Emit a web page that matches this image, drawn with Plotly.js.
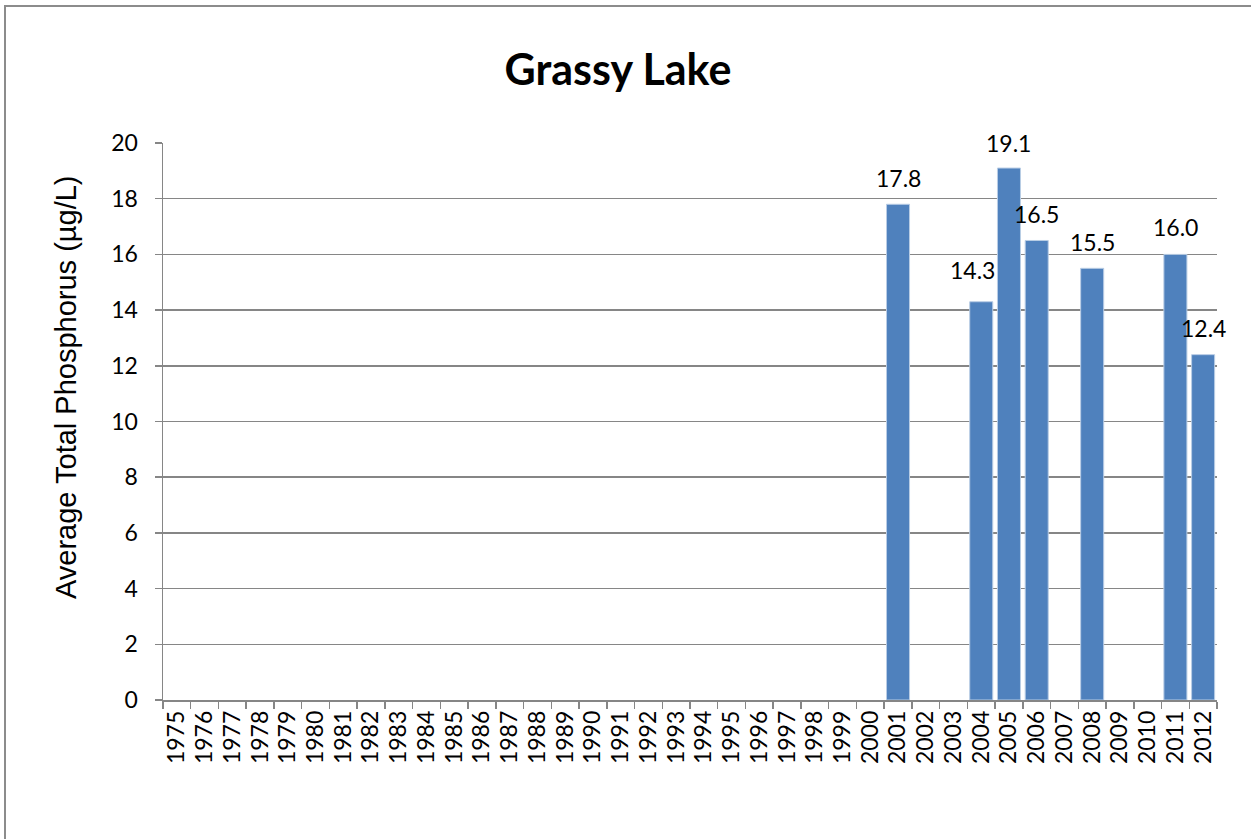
<!DOCTYPE html>
<html><head><meta charset="utf-8">
<script src="https://cdn.plot.ly/plotly-3.0.1.min.js"></script>
<style>
html,body{margin:0;padding:0;background:#fff;overflow:hidden;width:1251px;height:839px;}
#frame{position:absolute;left:4px;top:5px;width:1400px;height:1000px;border:2px solid #8c8c8c;box-sizing:border-box;}
#chart{position:absolute;left:0;top:0;width:1251px;height:839px;}
</style>
</head><body>
<div id="frame"></div>
<div id="chart"></div>
<script>
const years = [];
for (let y = 1975; y <= 2012; y++) years.push(String(y));
const sampleYears = ["2001","2004","2005","2006","2008","2011","2012"];
const sampleValues = [17.8, 14.3, 19.1, 16.5, 15.5, 16.0, 12.4];
const labelText = sampleValues.map(v => v.toFixed(1));
// label placement offsets (px), styling only
const labelXShift = [0, -9, 0, 0, 0, 0, 0];
const labelYShift = [26, 32, 25, 26, 26, 27, 27];

const FONT = 'Lato, Open Sans, sans-serif';

const trace = {
  type: 'bar',
  x: sampleYears,
  y: sampleValues,
  marker: {color: '#4f81bd', line: {color: '#b9cde5', width: 1}},
  width: 0.83,
  hoverinfo: 'x+y'
};

const annotations = sampleYears.map((yr, i) => ({
  x: years.indexOf(yr), y: sampleValues[i], xref: 'x', yref: 'y',
  text: labelText[i], showarrow: false,
  xanchor: 'center', yanchor: 'middle',
  xshift: labelXShift[i], yshift: labelYShift[i],
  font: {family: FONT, size: 23, color: '#000'}
}));
annotations.push({
  xref: 'paper', yref: 'paper', x: -0.092, y: 0.562,
  xanchor: 'center', yanchor: 'middle', textangle: -90,
  text: 'Average Total Phosphorus (µg/L)', showarrow: false,
  font: {family: 'Liberation Sans, Arial, sans-serif', size: 29, color: '#000'}
});

const layout = {
  width: 1251, height: 839,
  paper_bgcolor: 'rgba(0,0,0,0)', plot_bgcolor: 'rgba(0,0,0,0)',
  margin: {l: 163, r: 34, t: 143, b: 139},
  title: {text: '<b>Grassy Lake</b>', x: 0.494, xanchor: 'center', y: 0.917, yanchor: 'middle',
          font: {family: FONT, size: 43, color: '#000'}},
  showlegend: false,
  annotations: annotations,
  xaxis: {
    type: 'category', categoryorder: 'array', categoryarray: years,
    tickvals: years, ticktext: years,
    range: [-0.5, years.length - 0.5],
    tickangle: -90, tickson: 'boundaries', ticks: 'outside', ticklen: 7, tickcolor: '#868686', tickwidth: 1.5,
    showline: true, linecolor: '#868686', linewidth: 1.5,
    showgrid: false, zeroline: false,
    tickfont: {family: FONT, size: 23, color: '#000'}
  },
  yaxis: {
    range: [0, 20], dtick: 2, tick0: 0,
    ticks: 'outside', ticklen: 7, tickcolor: '#868686', tickwidth: 1.5,
    ticklabelstandoff: 12,
    showline: true, linecolor: '#868686', linewidth: 1.5,
    showgrid: true, gridcolor: '#868686', gridwidth: 1.5, zeroline: false,
    tickfont: {family: FONT, size: 23, color: '#000'}
  }
};

Plotly.newPlot('chart', [trace], layout, {staticPlot: true, displayModeBar: false});
</script>
</body></html>
